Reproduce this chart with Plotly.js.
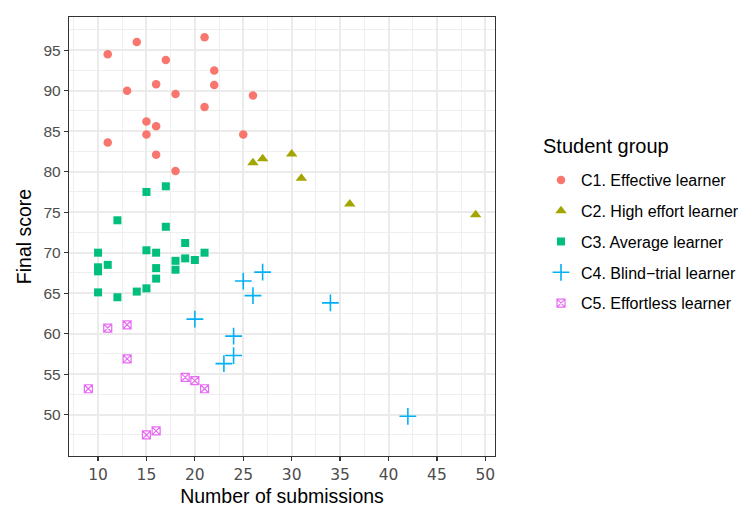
<!DOCTYPE html>
<html>
<head>
<meta charset="utf-8">
<script src="https://cdn.plot.ly/plotly-3.0.1.min.js"></script>
<style>html,body{margin:0;padding:0;background:#fff;}#chart{width:749px;height:513px;}</style>
</head>
<body>
<div id="chart"></div>
<script>
// Data
const groupNames = ["C1. Effective learner", "C2. High effort learner", "C3. Average learner", "C4. Blind\u2212trial learner", "C5. Effortless learner"];
const legendTitle = "Student group";

const c1Submissions = [11, 14, 21, 17, 22, 16, 22, 13, 18, 26, 21, 15, 16, 15, 25, 11, 16, 18];
const c1Scores      = [94.5, 96.0, 96.6, 93.8, 92.5, 90.8, 90.7, 90.0, 89.6, 89.4, 88.0, 86.2, 85.6, 84.6, 84.6, 83.6, 82.1, 80.1];

const c2Submissions = [26, 27, 30, 31, 36, 49];
const c2Scores      = [81.1, 81.6, 82.2, 79.2, 76.0, 74.7];

const c3Submissions = [17, 15, 12, 17, 19, 10, 15, 16, 21, 11, 10, 10, 16, 16, 18, 18, 19, 20, 10, 12, 14, 15];
const c3Scores      = [78.2, 77.5, 74.0, 73.2, 71.2, 70.0, 70.3, 70.0, 70.0, 68.5, 68.2, 67.7, 68.1, 66.8, 69.0, 67.9, 69.3, 69.1, 65.1, 64.5, 65.2, 65.6];

const c4Submissions = [25, 27, 26, 20, 24, 24, 23, 34, 42];
const c4Scores      = [66.5, 67.6, 64.7, 61.8, 59.7, 57.3, 56.3, 63.8, 49.8];

const c5Submissions = [11, 13, 13, 9, 19, 20, 21, 15, 16];
const c5Scores      = [60.7, 61.1, 56.9, 53.2, 54.6, 54.2, 53.2, 47.5, 48.0];

const xTickVals = [10, 15, 20, 25, 30, 35, 40, 45, 50];
const yTickVals = [50, 55, 60, 65, 70, 75, 80, 85, 90, 95];
const xMinorVals = [7.5, 12.5, 17.5, 22.5, 27.5, 32.5, 37.5, 42.5, 47.5];
const yMinorVals = [47.5, 52.5, 57.5, 62.5, 67.5, 72.5, 77.5, 82.5, 87.5, 92.5, 97.5];

const colors = ["#F8766D", "#A3A500", "#00BF7D", "#00B0F6", "#E76BF3"];

const traces = [
  {x: c1Submissions, y: c1Scores, name: groupNames[0], legendgroup: "g1",
   marker: {symbol: "circle", size: 8.5, color: colors[0]}},
  {x: c2Submissions, y: c2Scores, name: groupNames[1], legendgroup: "g2",
   marker: {symbol: "triangle-up", size: 10, color: colors[1]}},
  {x: c3Submissions, y: c3Scores, name: groupNames[2], legendgroup: "g3",
   marker: {symbol: "square", size: 8, color: colors[2]}},
  {x: c4Submissions, y: c4Scores, name: groupNames[3], legendgroup: "g4",
   marker: {symbol: "cross-thin-open", size: 12, color: colors[3], line: {color: colors[3], width: 1.6}}},
  {x: c5Submissions, y: c5Scores, name: groupNames[4], legendgroup: "g5",
   marker: {symbol: "square-x-open", size: 8, color: colors[4], line: {color: colors[4], width: 1.2}}}
].map(t => Object.assign({type: "scatter", mode: "markers", hoverinfo: "x+y"}, t));

const font = "'Liberation Sans', Arial, Helvetica, sans-serif";
const wideFont = "'DejaVu Sans', 'Liberation Sans', sans-serif";

const axisCommon = {
  showline: true, linecolor: "#333333", linewidth: 1.2, mirror: true,
  ticks: "outside", ticklen: 4, tickwidth: 1.2, tickcolor: "#333333",
  showgrid: true, gridcolor: "#EBEBEB", gridwidth: 2,
  zeroline: false
};

const layout = {
  width: 749, height: 513,
  paper_bgcolor: "#ffffff", plot_bgcolor: "#ffffff",
  margin: {l: 69, r: 254, t: 17, b: 57},
  font: {family: font, color: "#000000"},
  xaxis: Object.assign({}, axisCommon, {
    range: [7, 51], tickmode: "array", tickvals: xTickVals, ticktext: xTickVals.map(String),
    tickfont: {family: wideFont, size: 15.5, color: "#4D4D4D"},
    minor: {tickmode: "array", tickvals: xMinorVals, showgrid: true, gridcolor: "#EFEFEF", gridwidth: 1, ticks: ""},
    title: {text: "Number of submissions", font: {family: font, size: 19.5, color: "#000"}, standoff: 6}
  }),
  yaxis: Object.assign({}, axisCommon, {
    range: [44.9, 99.1], tickmode: "array", tickvals: yTickVals, ticktext: yTickVals.map(String),
    tickfont: {family: font, size: 15.5, color: "#4D4D4D"},
    minor: {tickmode: "array", tickvals: yMinorVals, showgrid: true, gridcolor: "#EFEFEF", gridwidth: 1, ticks: ""},
    title: {text: "Final score", font: {family: font, size: 19.5, color: "#000"}, standoff: 6}
  }),
  showlegend: true,
  legend: {
    xref: "container", yref: "container",
    x: 541 / 749, y: 1 - 163 / 513, xanchor: "left", yanchor: "top",
    font: {family: font, size: 16, color: "#000"},
    traceorder: "grouped", tracegroupgap: 7,
    bgcolor: "rgba(0,0,0,0)", borderwidth: 0, itemwidth: 30
  },
  annotations: [{
    xref: "paper", yref: "paper", x: (540.5 - 69) / 426, y: 1 - (146 - 17) / 439,
    xanchor: "left", yanchor: "middle", showarrow: false,
    text: legendTitle, font: {family: font, size: 20, color: "#000"}
  }]
};

Plotly.newPlot("chart", traces, layout, {staticPlot: true, displayModeBar: false});
</script>
</body>
</html>
